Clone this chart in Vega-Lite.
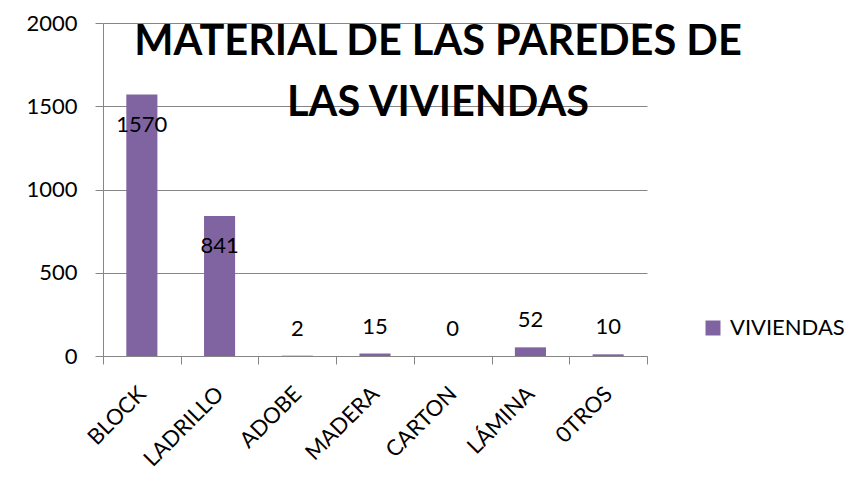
{
  "$schema": "https://vega.github.io/schema/vega-lite/v6.json",
  "autosize": "none",
  "width": 544,
  "height": 333,
  "padding": {"left": 103, "top": 23, "right": 209, "bottom": 144},
  "background": "white",
  "config": {
    "font": "Lato",
    "view": {"stroke": null},
    "axis": {"labelFont": "Lato", "labelColor": "black", "domainColor": "#868686", "tickColor": "#868686", "gridColor": "#868686", "title": null}
  },
  "title": {
    "text": ["MATERIAL DE LAS PAREDES DE", "LAS VIVIENDAS"],
    "font": "Lato",
    "fontSize": 41.5,
    "fontWeight": "bold",
    "color": "black",
    "lineHeight": 61,
    "anchor": "middle",
    "frame": "group",
    "offset": 0,
    "dx": 63,
    "dy": 112
  },
  "data": {
    "values": [
      {"material": "BLOCK", "viviendas": 1570, "serie": "VIVIENDAS"},
      {"material": "LADRILLO", "viviendas": 841, "serie": "VIVIENDAS"},
      {"material": "ADOBE", "viviendas": 2, "serie": "VIVIENDAS"},
      {"material": "MADERA", "viviendas": 15, "serie": "VIVIENDAS"},
      {"material": "CARTON", "viviendas": 0, "serie": "VIVIENDAS"},
      {"material": "LÁMINA", "viviendas": 52, "serie": "VIVIENDAS"},
      {"material": "0TROS", "viviendas": 10, "serie": "VIVIENDAS"}
    ]
  },
  "encoding": {
    "x": {
      "field": "material",
      "type": "nominal",
      "sort": null,
      "scale": {"paddingInner": 0, "paddingOuter": 0},
      "axis": {
        "labelAngle": -45,
        "labelAlign": "right",
        "labelBaseline": "middle",
        "labelFontSize": 22,
        "labelPadding": 26,
        "tickSize": 8,
        "tickBand": "extent",
        "grid": false,
        "domainColor": "#868686"
      }
    },
    "y": {
      "field": "viviendas",
      "type": "quantitative",
      "scale": {"domain": [0, 2000], "nice": false},
      "axis": {
        "values": [0, 500, 1000, 1500, 2000],
        "format": "d",
        "labelFontSize": 22,
        "labelPadding": 18,
        "tickSize": 8,
        "grid": true,
        "domain": true
      }
    }
  },
  "layer": [
    {
      "mark": {"type": "bar", "width": {"band": 0.4}},
      "encoding": {
        "color": {
          "field": "serie",
          "type": "nominal",
          "scale": {"range": ["#8064A2"]},
          "legend": {
            "title": null,
            "orient": "none",
            "legendX": 599,
            "legendY": 294,
            "padding": 0,
            "symbolType": "square",
            "symbolSize": 225,
            "symbolStrokeWidth": 0,
            "labelFont": "Lato",
            "labelFontSize": 22,
            "labelColor": "black",
            "labelOffset": 6
          }
        }
      }
    },
    {
      "transform": [{"filter": "datum.viviendas > 100"}],
      "mark": {"type": "text", "baseline": "middle", "dy": 30, "fontSize": 22, "font": "Lato", "color": "black"},
      "encoding": {"text": {"field": "viviendas", "type": "quantitative", "format": "d"}}
    },
    {
      "transform": [{"filter": "datum.viviendas <= 100"}],
      "mark": {"type": "text", "baseline": "middle", "dy": -27, "fontSize": 22, "font": "Lato", "color": "black"},
      "encoding": {"text": {"field": "viviendas", "type": "quantitative", "format": "d"}}
    }
  ]
}
